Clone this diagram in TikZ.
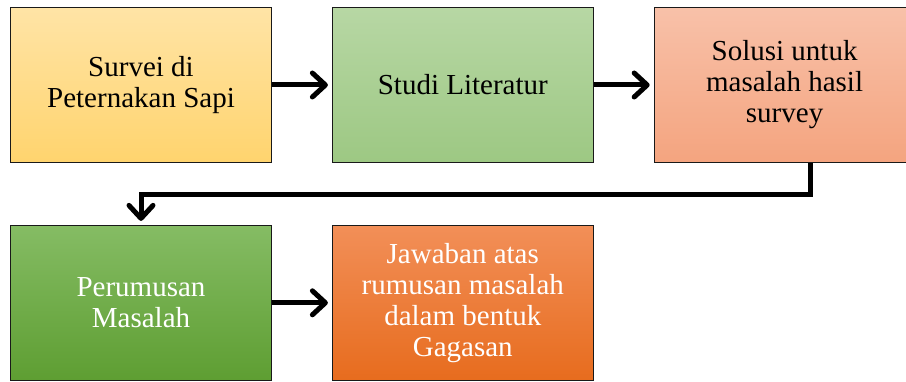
\documentclass[tikz,border=0pt]{standalone}
\usepackage{fontspec}
\setmainfont{Liberation Serif}
\usetikzlibrary{arrows.meta, calc, positioning}
\tikzset {
    stage/.style args = {#1/#2}{
        draw = black!90,
        line width = 0.8pt,
        shape = rectangle,
        minimum width = 261pt,
        minimum height = 155pt,
        align = center,
        top color = #1,
        bottom color = #2,
        font = {\fontsize{29pt}{31pt}\selectfont}
    },
    light/.style = {
        text = white
    },
    flow/.style = {
        -{Straight Barb[length=13pt, width=24pt, round]},
        line width = 5pt,
        shorten > = 4pt,
        draw
    }
}
\definecolor{yellowtop}{HTML}{FFE4A6}
\definecolor{yellowbot}{HTML}{FFD46E}
\definecolor{greentop}{HTML}{B7D7A4}
\definecolor{greenbot}{HTML}{9DC883}
\definecolor{salmontop}{HTML}{F8C1A9}
\definecolor{salmonbot}{HTML}{F4A47F}
\definecolor{darkgreentop}{HTML}{85BC64}
\definecolor{darkgreenbot}{HTML}{5E9E32}
\definecolor{orangetop}{HTML}{F28F58}
\definecolor{orangebot}{HTML}{E76C1E}
\begin{document}
\begin{tikzpicture}[x=1pt, y=1pt, node distance=60pt]
        \useasboundingbox (0, 0) rectangle (906, -382);

        % First row : survey, study, solution
        \node [stage={yellowtop/yellowbot}] at (141, -85)           (survei)    {Survei di\\Peternakan Sapi};
        \node [stage={greentop/greenbot}, right=60pt of survei]     (studi)     {Studi Literatur};
        \node [stage={salmontop/salmonbot}, right=60pt of studi]    (solusi)    {Solusi untuk\\masalah hasil\\survey};

        % Second row : problem statement, answer
        \node [stage={darkgreentop/darkgreenbot}, light, below=62pt of survei]  (rumusan)   {Perumusan\\Masalah};
        \node [stage={orangetop/orangebot}, light, right=60pt of rumusan]       (jawaban)   {Jawaban atas\\rumusan masalah\\dalam bentuk\\Gagasan};

        \path [flow]    (survei)    --  (studi);
        \path [flow]    (studi)     --  (solusi);
        \path [flow]    ([xshift=26pt]solusi.south) -- ++(0, -32) -| (rumusan.north);
        \path [flow]    (rumusan)   --  (jawaban);
    \end{tikzpicture}
\end{document}
